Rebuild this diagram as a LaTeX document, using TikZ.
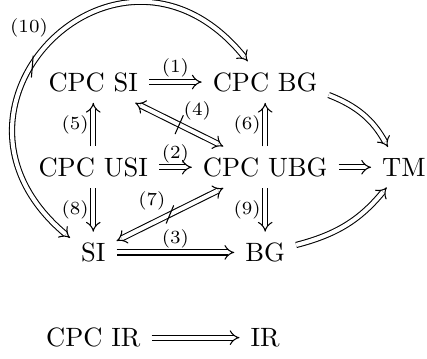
\documentclass[tikz,border=0pt]{standalone}
\usetikzlibrary{arrows.meta,positioning}

\begin{document}
\begin{tikzpicture}[
    node distance=1.13cm and 2.28cm,
    on grid,
    obj/.style={inner sep=4pt},
    imp/.style={double, double equal sign distance, -Implies},
    eqv/.style={double, double equal sign distance, Implies-Implies},
    lbl/.style={font=\scriptsize, inner sep=1.5pt},
    crossmark/.style={line width=0.4pt}
]
\useasboundingbox (0,0) rectangle (5.663,4.748);

% Objects
\node[obj] (cpcsi) at (1.237,3.66) {CPC SI};
\node[obj, right=of cpcsi] (cpcbg) {CPC BG};
\node[obj, below=of cpcsi] (cpcusi) {CPC USI};
\node[obj, below=of cpcbg] (cpcubg) {CPC UBG};
\node[obj, right=1.84cm of cpcubg] (tm) {TM};
\node[obj, below=of cpcusi] (si) {SI};
\node[obj, below=of cpcubg] (bg) {BG};
\node[obj, below=of si] (cpcir) {CPC IR};
\node[obj, below=of bg] (ir) {IR};

% Implications
\draw[imp] (cpcsi) -- node[lbl, above] {(1)} (cpcbg);
\draw[imp] (cpcusi) -- node[lbl, above] {(2)} (cpcubg);
\draw[imp] (si) -- node[lbl, above] {(3)} (bg);
\draw[imp] (cpcusi) -- node[lbl, left] {(5)} (cpcsi);
\draw[imp] (cpcubg) -- node[lbl, left] {(6)} (cpcbg);
\draw[imp] (cpcusi) -- node[lbl, left] {(8)} (si);
\draw[imp] (cpcubg) -- node[lbl, left] {(9)} (bg);
\draw[imp] (cpcubg) -- (tm);
\draw[imp] (cpcbg) to[bend left=20] (tm);
\draw[imp] (bg) to[bend right=18] (tm);
\draw[imp] (cpcir) -- (ir);

% Crossed ones
\draw[eqv] (cpcsi) -- coordinate (x4) node[lbl, above right] {(4)} (cpcubg);
\draw[eqv] (si) -- coordinate (x7) node[lbl, above left] {(7)} (cpcubg);
\draw[eqv] (si.148) .. controls +(140:2.7) and +(129:2.7) .. (cpcbg.130)
    coordinate[pos=.42] (x10) node[lbl, pos=.5, above left] {(10)};

\draw[crossmark] ([shift={(-0.055,-0.125)}]x4) -- ([shift={(0.055,0.125)}]x4);
\draw[crossmark] ([shift={(-0.05,-0.12)}]x7) -- ([shift={(0.05,0.12)}]x7);
\draw[crossmark] ([shift={(-0.012,-0.145)}]x10) -- ([shift={(0.012,0.145)}]x10);

\end{tikzpicture}
\end{document}
